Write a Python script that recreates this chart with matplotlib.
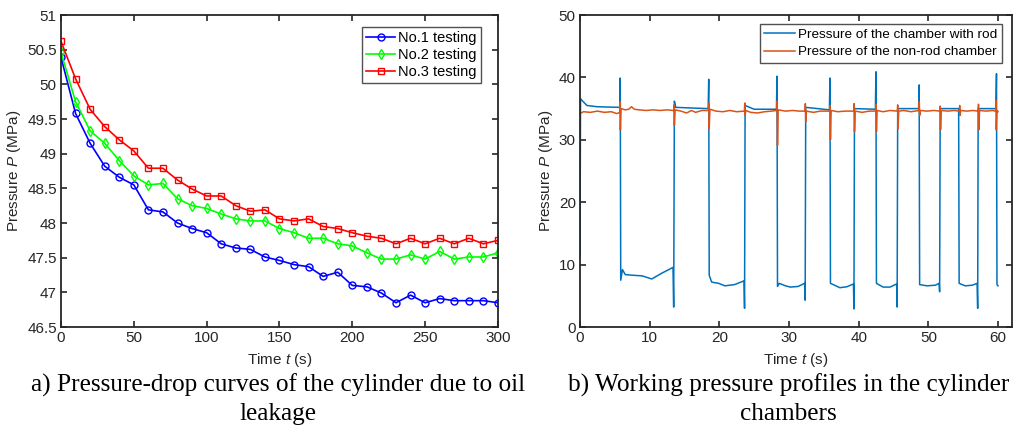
import matplotlib
matplotlib.use("Agg")
import matplotlib.pyplot as plt

plt.rcParams.update({
    "font.family": ["Liberation Sans", "DejaVu Sans"],
    "mathtext.fontset": "custom",
    "mathtext.rm": "Liberation Sans",
    "mathtext.it": "Liberation Sans:italic",
    "axes.linewidth": 1.3,
    "xtick.direction": "in",
    "ytick.direction": "in",
})

# ---------------- data: (a) pressure drop ----------------
time_a = [0, 10, 20, 30, 40, 50, 60, 70, 80, 90, 100, 110, 120, 130, 140, 150,
          160, 170, 180, 190, 200, 210, 220, 230, 240, 250, 260, 270, 280, 290, 300]
test1 = [50.39, 49.58, 49.15, 48.82, 48.66, 48.55, 48.19, 48.16, 48.00, 47.92, 47.86,
         47.70, 47.64, 47.62, 47.51, 47.46, 47.40, 47.37, 47.23, 47.29, 47.10, 47.08,
         46.99, 46.85, 46.96, 46.85, 46.91, 46.88, 46.88, 46.88, 46.85]
test2 = [50.46, 49.75, 49.33, 49.15, 48.90, 48.68, 48.55, 48.57, 48.35, 48.25, 48.21,
         48.13, 48.06, 48.03, 48.03, 47.92, 47.86, 47.78, 47.78, 47.70, 47.67, 47.57,
         47.48, 47.48, 47.54, 47.48, 47.59, 47.48, 47.51, 47.51, 47.57]
test3 = [50.62, 50.08, 49.64, 49.39, 49.20, 49.04, 48.79, 48.79, 48.62, 48.49, 48.39,
         48.39, 48.25, 48.17, 48.19, 48.06, 48.03, 48.06, 47.95, 47.92, 47.86, 47.81,
         47.78, 47.70, 47.78, 47.70, 47.78, 47.70, 47.78, 47.70, 47.75]
labels_a = ["No.1 testing", "No.2 testing", "No.3 testing"]

# ---------------- data: (b) working pressure ----------------
t_rod = [0, 0.08, 0.3, 1.0, 2.5, 5.7, 5.78, 5.85, 6.1, 6.5, 7.5, 8.9, 10.3, 11.7, 13.35,
         13.45, 13.55, 13.75, 16.0, 18.4, 18.48, 18.55, 18.9, 19.9, 20.8, 22.2, 23.55,
         23.62, 23.7, 25.0, 28.2, 28.28, 28.35, 28.6, 29.5, 30.2, 31.3, 32.25, 32.32,
         32.4, 35.8, 35.88, 35.95, 37.3, 38.3, 39.25, 39.32, 39.4, 42.4, 42.48, 42.55,
         43.5, 44.5, 45.45, 45.52, 45.6, 48.6, 48.68, 48.75, 49.8, 51.0, 51.55, 51.62,
         51.7, 54.35, 54.42, 55.3, 56.3, 57.0, 57.08, 57.15, 59.7, 59.78, 59.85, 60.0]
p_rod = [11.3, 36.6, 36.3, 35.5, 35.3, 35.2, 39.9, 7.5, 9.2, 8.4, 8.3, 8.2, 7.7, 8.6, 9.55,
         3.2, 36.2, 35.2, 35.1, 35.0, 39.7, 8.3, 7.2, 7.0, 6.6, 6.8, 7.4,
         3.0, 35.5, 34.9, 34.9, 40.2, 6.5, 7.0, 6.6, 6.4, 6.5, 7.0, 4.3,
         35.2, 34.8, 39.9, 7.0, 6.3, 6.45, 6.9, 2.9, 35.0, 34.9, 40.9, 7.0,
         6.4, 6.4, 6.9, 3.2, 35.0, 35.0, 38.8, 6.8, 6.6, 6.7, 7.0, 5.65,
         35.0, 35.0, 7.0, 6.6, 6.7, 7.0, 3.0, 35.0, 35.0, 40.6, 6.8, 6.6]

t_non = [0, 0.5, 1.5, 2.5, 3.5, 4.5, 5.3, 5.7, 5.75, 5.8, 5.9, 6.5, 7.0, 7.4, 7.8, 8.5,
         9.5, 10.5, 11.5, 12.5, 13.45, 13.5, 13.55, 13.65, 14.5, 15.3, 16.0, 16.6, 17.5,
         18.45, 18.5, 18.55, 18.65, 19.5, 20.5, 21.5, 22.5, 23.6, 23.65, 23.7, 23.8, 24.5,
         25.5, 26.5, 27.5, 28.25, 28.3, 28.35, 28.45, 29.5, 30.5, 31.5, 32.3, 32.35, 32.4,
         32.5, 33.5, 34.5, 35.85, 35.9, 35.95, 36.05, 37.0, 38.0, 39.3, 39.35, 39.4, 39.5,
         40.5, 41.5, 42.45, 42.5, 42.55, 42.65, 43.5, 44.5, 45.55, 45.6, 45.65, 45.75,
         46.5, 47.5, 48.65, 48.7, 48.75, 48.85, 49.8, 50.8, 51.65, 51.7, 51.75, 51.85,
         52.8, 53.7, 54.45, 54.5, 54.55, 54.65, 55.5, 56.4, 57.15, 57.2, 57.25, 57.35,
         58.3, 59.2, 59.65, 59.7, 59.75, 59.85, 60.0]
p_non = [34.2, 34.5, 34.4, 34.6, 34.4, 34.5, 34.2, 34.4, 36.1, 31.6, 35.0, 34.8, 34.9, 35.3,
         34.9, 34.8, 34.7, 34.8, 34.7, 34.8, 34.7, 35.6, 32.3, 34.8, 34.6, 34.3, 34.7,
         34.4, 34.7, 34.7, 35.9, 31.8, 34.9, 34.6, 34.5, 34.7, 34.5, 34.6, 35.9, 33.9,
         34.7, 34.4, 34.3, 34.5, 34.6, 34.7, 36.2, 29.1, 34.8, 34.6, 34.7, 34.6, 34.6,
         35.8, 32.9, 34.6, 34.4, 34.6, 34.6, 35.5, 30.0, 34.7, 34.5, 34.6, 34.6, 35.8,
         31.3, 34.6, 34.4, 34.6, 34.6, 35.7, 31.3, 34.7, 34.5, 34.7, 34.6, 35.6, 31.8,
         34.6, 34.7, 34.5, 34.7, 36.1, 33.9, 34.7, 34.6, 34.7, 34.6, 35.4, 31.6, 34.7,
         34.6, 34.7, 34.6, 35.5, 33.9, 34.7, 34.6, 34.7, 34.6, 35.7, 31.6, 34.7, 34.6,
         34.7, 34.6, 36.3, 31.6, 34.7, 34.5]
labels_b = ["Pressure of the chamber with rod", "Pressure of the non-rod chamber"]

caption_a = ["a) Pressure-drop curves of the cylinder due to oil", "leakage"]
caption_b = ["b) Working pressure profiles in the cylinder", "chambers"]

# ---------------- figure ----------------
fig = plt.figure(figsize=(10.15, 4.30), dpi=100)
ax1 = fig.add_axes([0.0601, 0.2395, 0.4305, 0.7256])
ax2 = fig.add_axes([0.5714, 0.2395, 0.4256, 0.7256])

axis_col = "#262626"
for ax in (ax1, ax2):
    for s in ax.spines.values():
        s.set_color(axis_col)
    ax.tick_params(axis="both", which="both", top=True, right=True, length=4.5,
                   width=1.2, color=axis_col, labelsize=11, labelcolor="#262626", pad=3)

ax1.plot(time_a, test1, color="#0000ff", marker="o", ms=5, mfc="none", mew=1.0, lw=1.2,
         label=labels_a[0])
ax1.plot(time_a, test2, color="#00ff00", marker="d", ms=5, mfc="none", mew=1.0, lw=1.2,
         label=labels_a[1])
ax1.plot(time_a, test3, color="#ff0000", marker="s", ms=4.5, mfc="none", mew=1.0, lw=1.2,
         label=labels_a[2])
ax1.set_xlim(0, 300)
ax1.set_ylim(46.5, 51)
ax1.set_xticks([0, 50, 100, 150, 200, 250, 300])
yt = [46.5 + 0.5 * i for i in range(10)]
ax1.set_yticks(yt)
ax1.set_yticklabels(["{:g}".format(v) for v in yt])
ax1.set_xlabel("Time $t$ (s)", fontsize=11, color="#262626", labelpad=4)
ax1.set_ylabel("Pressure $P$ (MPa)", fontsize=11, color="#262626", labelpad=3)
leg1 = ax1.legend(loc="upper right", bbox_to_anchor=(0.961, 0.962), fontsize=10.5,
                  frameon=True, fancybox=False, edgecolor="#262626", handlelength=2.0,
                  handletextpad=0.2, borderpad=0.3, labelspacing=0.2, borderaxespad=0)
leg1.get_frame().set_linewidth(1.0)

ax2.plot(t_rod, p_rod, color="#0072BD", lw=1.1, label=labels_b[0])
ax2.plot(t_non, p_non, color="#D95319", lw=1.1, label=labels_b[1])
ax2.set_xlim(0, 62)
ax2.set_ylim(0, 50)
ax2.set_xticks([0, 10, 20, 30, 40, 50, 60])
ax2.set_yticks([0, 10, 20, 30, 40, 50])
ax2.set_xlabel("Time $t$ (s)", fontsize=11, color="#262626", labelpad=4)
ax2.set_ylabel("Pressure $P$ (MPa)", fontsize=11, color="#262626", labelpad=3)
leg2 = ax2.legend(loc="upper right", bbox_to_anchor=(0.977, 0.971), fontsize=9.7,
                  frameon=True, fancybox=False, edgecolor="#262626", handlelength=2.3,
                  handletextpad=0.2, borderpad=0.35, labelspacing=0.35, borderaxespad=0)
leg2.get_frame().set_linewidth(1.0)

serif = ["Liberation Serif", "DejaVu Serif"]
baselines = [1 - 392 / 430, 1 - 420 / 430]
for xc, lines in ((0.274, caption_a), (0.777, caption_b)):
    for yb, line in zip(baselines, lines):
        fig.text(xc, yb, line, ha="center", va="baseline", fontsize=18.2, family=serif)

fig.savefig("out.png", dpi=100, facecolor="white")
